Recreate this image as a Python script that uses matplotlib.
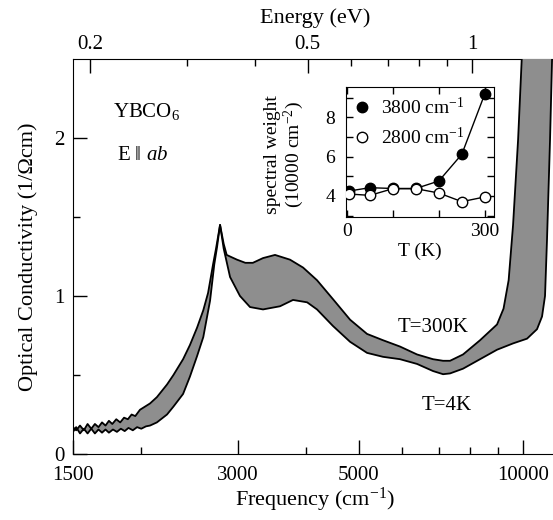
import numpy as np
import matplotlib
matplotlib.use("Agg")
import matplotlib.pyplot as plt
from matplotlib.ticker import FixedLocator, NullFormatter, FixedFormatter

plt.rcParams['font.family'] = 'serif'
plt.rcParams['font.serif'] = ['Liberation Serif', 'DejaVu Serif']
plt.rcParams['mathtext.fontset'] = 'custom'
plt.rcParams['mathtext.rm'] = 'Liberation Serif'
plt.rcParams['mathtext.it'] = 'Liberation Serif:italic'

# ---- main spectra (frequency in cm^-1, conductivity) ----
freq_300K = [1500, 1520, 1545, 1570, 1595, 1620, 1645, 1670, 1695, 1720, 1745, 1770,
             1800, 1830, 1860, 1890, 1920, 1950, 1989, 2075, 2136, 2229, 2290,
             2385, 2455, 2530, 2597, 2650, 2706, 2740, 2787, 2830, 2866, 2907, 2993,
             3100, 3200, 3340, 3513, 3742, 3954, 4193, 4485, 4820, 5177, 5538, 5949,
             6391, 6836, 7131, 7344, 7757, 8333, 8952, 9200, 9400, 9577, 9782, 9930, 9980]
sigma_300K = [0.17, 0.15, 0.18, 0.15, 0.19, 0.16, 0.19, 0.17, 0.20, 0.18, 0.21, 0.19,
              0.22, 0.20, 0.23, 0.22, 0.25, 0.24, 0.28, 0.32, 0.36, 0.44, 0.50,
              0.60, 0.69, 0.80, 0.91, 1.02, 1.20, 1.30, 1.45, 1.33, 1.26, 1.25, 1.23,
              1.21, 1.21, 1.24, 1.26, 1.23, 1.18, 1.10, 0.98, 0.85, 0.76, 0.72, 0.68,
              0.63, 0.60, 0.59, 0.59, 0.63, 0.72, 0.82, 0.92, 1.10, 1.45, 1.99, 2.49, 2.70]

freq_4K = [1500, 1520, 1545, 1570, 1595, 1620, 1645, 1670, 1695, 1720, 1745, 1775,
           1805, 1835, 1865, 1895, 1930, 1965, 2000, 2040, 2075, 2136, 2229, 2290,
           2385, 2455, 2530, 2597, 2672, 2720, 2752, 2787, 2830, 2907, 3031, 3162,
           3340, 3588, 3790, 4022, 4193, 4485, 4820, 5177, 5538, 5949, 6391, 6836,
           7131, 7344, 7757, 8333, 8952, 9577, 10158, 10594, 10820, 10957, 11050,
           11191, 11286, 11320]
sigma_4K = [0.14, 0.17, 0.13, 0.16, 0.13, 0.16, 0.13, 0.155, 0.135, 0.155, 0.135, 0.155,
            0.14, 0.16, 0.145, 0.165, 0.15, 0.17, 0.16, 0.175, 0.18, 0.20, 0.25, 0.30,
            0.38, 0.49, 0.62, 0.74, 0.97, 1.20, 1.31, 1.45, 1.30, 1.12, 1.00, 0.93,
            0.915, 0.935, 0.975, 0.96, 0.915, 0.81, 0.71, 0.64, 0.615, 0.60, 0.57, 0.525,
            0.505, 0.51, 0.54, 0.60, 0.66, 0.70, 0.73, 0.79, 0.87, 1.00, 1.36,
            1.99, 2.49, 2.70]

# ---- inset: spectral weight vs temperature ----
T_inset = [4, 50, 100, 150, 200, 250, 300]
sw_3800 = [4.25, 4.42, 4.38, 4.38, 4.76, 6.12, 9.19]
sw_2800 = [4.10, 4.03, 4.37, 4.37, 4.15, 3.71, 3.95]

x_major = [1500, 3000, 5000, 10000]
x_major_labels = ['1500', '3000', '5000', '10000']
x_minor = [2000, 4000, 6000, 7000, 8000, 9000]
ev_major = [0.2, 0.5, 1.0]
ev_major_labels = ['0.2', '0.5', '1']
ev_minor = [0.3, 0.4, 0.6, 0.7, 0.8, 0.9]
CM_PER_EV = 8065.54

W, H = 553, 520
fig = plt.figure(figsize=(W / 100, H / 100), dpi=100)

L, R, T, B = 73, 556.5, 59, 454
ax = fig.add_axes([L / W, 1 - B / H, (R - L) / W, (B - T) / H])
ax.set_xscale('log')
ax.set_xlim(1500, 11500)
ax.set_ylim(0, 2.5)

grey = '#8e8e8e'
poly_x = list(freq_300K) + list(freq_4K[::-1])
poly_y = list(sigma_300K) + list(sigma_4K[::-1])
ax.fill(poly_x, poly_y, color=grey, lw=0, zorder=1)
ax.plot(freq_300K, sigma_300K, color='black', lw=1.3, zorder=3)
ax.plot(freq_4K, sigma_4K, color='black', lw=1.3, zorder=3)

ax.xaxis.set_major_locator(FixedLocator(x_major))
ax.xaxis.set_major_formatter(FixedFormatter(x_major_labels))
ax.xaxis.set_minor_locator(FixedLocator(x_minor))
ax.xaxis.set_minor_formatter(NullFormatter())
ax.set_yticks([0, 1, 2])
ax.yaxis.set_minor_locator(FixedLocator([0.5, 1.5]))
ax.tick_params(which='both', direction='in', top=False, right=False, labelsize=15)
ax.tick_params(which='major', length=10, width=1)
ax.tick_params(which='minor', length=5, width=1)
ax.tick_params(axis='x', pad=9)
ax.tick_params(axis='y', pad=6)
ax.spines['right'].set_visible(False)
ax.spines['top'].set_visible(False)
ax.set_xlabel('Frequency (cm$^{-1}$)', fontsize=16, labelpad=0)
ax.set_ylabel('Optical Conductivity (1/\u03a9cm)', fontsize=16, labelpad=12)

sec = ax.secondary_xaxis('top', functions=(lambda f: f / CM_PER_EV, lambda e: e * CM_PER_EV))
sec.xaxis.set_major_locator(FixedLocator(ev_major))
sec.xaxis.set_major_formatter(FixedFormatter(ev_major_labels))
sec.xaxis.set_minor_locator(FixedLocator(ev_minor))
sec.xaxis.set_minor_formatter(NullFormatter())
sec.tick_params(which='both', direction='in', labelsize=15)
sec.tick_params(which='major', length=10, width=1)
sec.tick_params(which='minor', length=5, width=1)
sec.set_xlabel('Energy (eV)', fontsize=16, labelpad=9)

def axc(px, py):
    return ((px - L) / (R - L), (B - py) / (B - T))

ax.text(*axc(113, 112), 'YBCO$_6$', transform=ax.transAxes, fontsize=15, ha='left', va='center')
ax.text(*axc(117, 156), r'E $\Vert$ $\mathit{ab}$', transform=ax.transAxes, fontsize=15, ha='left', va='center')
ax.text(*axc(433, 328), 'T=300K', transform=ax.transAxes, fontsize=15, ha='center', va='center')
ax.text(*axc(447, 405), 'T=4K', transform=ax.transAxes, fontsize=15, ha='center', va='center')

# inset
iL, iR, iT, iB = 346, 494, 87, 217
ins = fig.add_axes([iL / W, 1 - iB / H, (iR - iL) / W, (iB - iT) / H])
ins.set_xlim(-2, 320)
ins.set_ylim(2.93, 9.54)
ins.plot(T_inset, sw_3800, '-o', color='black', mfc='black', mec='black', ms=7.5, lw=1,
         zorder=3, label='3800 cm$^{-1}$')
ins.plot(T_inset, sw_2800, '-o', color='black', mfc='white', mec='black', ms=7.5, lw=1,
         zorder=4, label='2800 cm$^{-1}$')
ins.set_xticks([0, 100, 200, 300])
ins.set_xticklabels(['0', '', '', '300'])
ins.set_yticks([3, 4, 5, 6, 7, 8, 9])
ins.set_yticklabels(['', '4', '', '6', '', '8', ''])
ins.tick_params(direction='in', top=True, right=True, length=5, width=1, labelsize=14, pad=4)
ins.tick_params(axis='y', pad=8)
ins.set_xlabel('T (K)', fontsize=14, labelpad=2)
leg = ins.legend(loc='upper left', frameon=False, fontsize=14, handlelength=0.6,
                 handletextpad=0.7, labelspacing=0.45, borderaxespad=0.2, numpoints=1,
                 borderpad=0.3)
for h in leg.legend_handles:
    h.set_linestyle('none')
fig.text(285 / W, 1 - 155 / H, 'spectral weight\n(10000 cm$^{-2}$)', rotation=90,
         fontsize=14, ha='center', va='center', linespacing=1.0)

fig.savefig('out.png', dpi=100)
